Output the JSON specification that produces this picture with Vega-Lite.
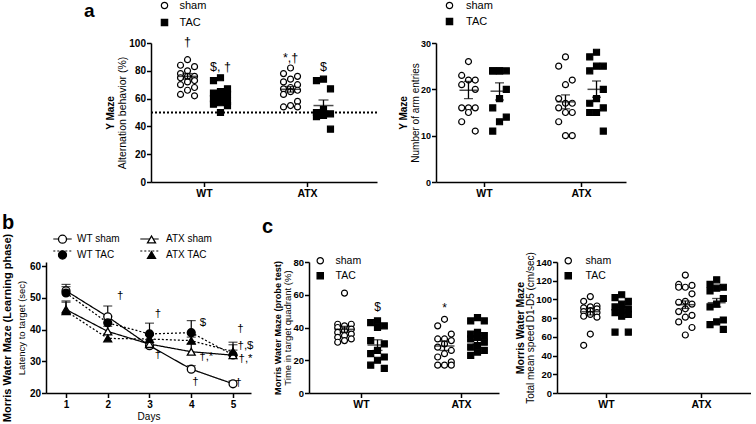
{
"$schema": "https://vega.github.io/schema/vega-lite/v6.json",
"background": "white",
"padding": {"left": 0, "top": 0, "right": 0, "bottom": 0},
"spacing": 14,
"resolve": {"scale": {"shape": "independent", "fill": "independent", "stroke": "independent", "size": "independent", "strokeDash": "independent"}},
"datasets": {
"altPts": [
{"g":"WT","t":"sham","v":88},{"g":"WT","t":"sham","v":84},{"g":"WT","t":"sham","v":83},{"g":"WT","t":"sham","v":80},{"g":"WT","t":"sham","v":78},{"g":"WT","t":"sham","v":76},{"g":"WT","t":"sham","v":76},{"g":"WT","t":"sham","v":75},{"g":"WT","t":"sham","v":73},{"g":"WT","t":"sham","v":72},{"g":"WT","t":"sham","v":70},{"g":"WT","t":"sham","v":68},{"g":"WT","t":"sham","v":66},{"g":"WT","t":"sham","v":63},{"g":"WT","t":"sham","v":62},
{"g":"WT","t":"TAC","v":75},{"g":"WT","t":"TAC","v":73},{"g":"WT","t":"TAC","v":67},{"g":"WT","t":"TAC","v":65},{"g":"WT","t":"TAC","v":64},{"g":"WT","t":"TAC","v":63},{"g":"WT","t":"TAC","v":61},{"g":"WT","t":"TAC","v":60},{"g":"WT","t":"TAC","v":58},{"g":"WT","t":"TAC","v":57},{"g":"WT","t":"TAC","v":56},{"g":"WT","t":"TAC","v":55},{"g":"WT","t":"TAC","v":50},
{"g":"ATX","t":"sham","v":82},{"g":"ATX","t":"sham","v":78},{"g":"ATX","t":"sham","v":76},{"g":"ATX","t":"sham","v":74},{"g":"ATX","t":"sham","v":72},{"g":"ATX","t":"sham","v":70},{"g":"ATX","t":"sham","v":68},{"g":"ATX","t":"sham","v":67},{"g":"ATX","t":"sham","v":66},{"g":"ATX","t":"sham","v":65},{"g":"ATX","t":"sham","v":63},{"g":"ATX","t":"sham","v":58},{"g":"ATX","t":"sham","v":55},{"g":"ATX","t":"sham","v":54},{"g":"ATX","t":"sham","v":54},
{"g":"ATX","t":"TAC","v":74},{"g":"ATX","t":"TAC","v":73},{"g":"ATX","t":"TAC","v":67},{"g":"ATX","t":"TAC","v":52},{"g":"ATX","t":"TAC","v":50},{"g":"ATX","t":"TAC","v":49},{"g":"ATX","t":"TAC","v":48},{"g":"ATX","t":"TAC","v":47},{"g":"ATX","t":"TAC","v":38}
],
"altStats": [{"g":"WT","t":"sham","m":76,"lo":74,"hi":78},{"g":"WT","t":"TAC","m":61.5,"lo":59.5,"hi":63.5},{"g":"ATX","t":"sham","m":66.7,"lo":64.7,"hi":68.7},{"g":"ATX","t":"TAC","m":55,"lo":51,"hi":59}],
"altAnn": [{"g":"WT","t":"sham","y":101,"s":"†"},{"g":"WT","t":"TAC","y":83,"s":"$, †"},{"g":"ATX","t":"sham","y":89,"s":"*,†"},{"g":"ATX","t":"TAC","y":83,"s":"$"}],
"armPts": [
{"g":"WT","t":"sham","v":26},{"g":"WT","t":"sham","v":23},{"g":"WT","t":"sham","v":22},{"g":"WT","t":"sham","v":22},{"g":"WT","t":"sham","v":21},{"g":"WT","t":"sham","v":20},{"g":"WT","t":"sham","v":16},{"g":"WT","t":"sham","v":16},{"g":"WT","t":"sham","v":16},{"g":"WT","t":"sham","v":15},{"g":"WT","t":"sham","v":13},{"g":"WT","t":"sham","v":11},
{"g":"WT","t":"TAC","v":24},{"g":"WT","t":"TAC","v":24},{"g":"WT","t":"TAC","v":24},{"g":"WT","t":"TAC","v":24},{"g":"WT","t":"TAC","v":24},{"g":"WT","t":"TAC","v":20},{"g":"WT","t":"TAC","v":18},{"g":"WT","t":"TAC","v":16},{"g":"WT","t":"TAC","v":14},{"g":"WT","t":"TAC","v":13},{"g":"WT","t":"TAC","v":11},
{"g":"ATX","t":"sham","v":27},{"g":"ATX","t":"sham","v":25},{"g":"ATX","t":"sham","v":22},{"g":"ATX","t":"sham","v":21},{"g":"ATX","t":"sham","v":18},{"g":"ATX","t":"sham","v":17},{"g":"ATX","t":"sham","v":17},{"g":"ATX","t":"sham","v":16},{"g":"ATX","t":"sham","v":15},{"g":"ATX","t":"sham","v":15},{"g":"ATX","t":"sham","v":13},{"g":"ATX","t":"sham","v":10},{"g":"ATX","t":"sham","v":10},
{"g":"ATX","t":"TAC","v":28},{"g":"ATX","t":"TAC","v":27},{"g":"ATX","t":"TAC","v":25},{"g":"ATX","t":"TAC","v":25},{"g":"ATX","t":"TAC","v":24},{"g":"ATX","t":"TAC","v":20},{"g":"ATX","t":"TAC","v":18},{"g":"ATX","t":"TAC","v":17},{"g":"ATX","t":"TAC","v":16},{"g":"ATX","t":"TAC","v":15},{"g":"ATX","t":"TAC","v":15},{"g":"ATX","t":"TAC","v":11}
],
"armStats": [{"g":"WT","t":"sham","m":19.8,"lo":18,"hi":21.7},{"g":"WT","t":"TAC","m":19.6,"lo":17.7,"hi":21.4},{"g":"ATX","t":"sham","m":17.3,"lo":15.8,"hi":18.8},{"g":"ATX","t":"TAC","m":20,"lo":18.3,"hi":21.8}],
"timePts": [
{"g":"WT","t":"sham","v":61},{"g":"WT","t":"sham","v":42},{"g":"WT","t":"sham","v":42},{"g":"WT","t":"sham","v":41},{"g":"WT","t":"sham","v":40},{"g":"WT","t":"sham","v":39},{"g":"WT","t":"sham","v":38},{"g":"WT","t":"sham","v":37},{"g":"WT","t":"sham","v":36},{"g":"WT","t":"sham","v":35},{"g":"WT","t":"sham","v":34},{"g":"WT","t":"sham","v":33},{"g":"WT","t":"sham","v":32},{"g":"WT","t":"sham","v":31},
{"g":"WT","t":"TAC","v":44},{"g":"WT","t":"TAC","v":43},{"g":"WT","t":"TAC","v":41},{"g":"WT","t":"TAC","v":40},{"g":"WT","t":"TAC","v":32},{"g":"WT","t":"TAC","v":30},{"g":"WT","t":"TAC","v":26},{"g":"WT","t":"TAC","v":24},{"g":"WT","t":"TAC","v":22},{"g":"WT","t":"TAC","v":20},{"g":"WT","t":"TAC","v":17},{"g":"WT","t":"TAC","v":15},
{"g":"ATX","t":"sham","v":45},{"g":"ATX","t":"sham","v":41},{"g":"ATX","t":"sham","v":36},{"g":"ATX","t":"sham","v":33},{"g":"ATX","t":"sham","v":33},{"g":"ATX","t":"sham","v":32},{"g":"ATX","t":"sham","v":30},{"g":"ATX","t":"sham","v":28},{"g":"ATX","t":"sham","v":26},{"g":"ATX","t":"sham","v":24},{"g":"ATX","t":"sham","v":22},{"g":"ATX","t":"sham","v":19},{"g":"ATX","t":"sham","v":17},{"g":"ATX","t":"sham","v":17},{"g":"ATX","t":"sham","v":17},
{"g":"ATX","t":"TAC","v":46},{"g":"ATX","t":"TAC","v":44},{"g":"ATX","t":"TAC","v":44},{"g":"ATX","t":"TAC","v":37},{"g":"ATX","t":"TAC","v":36},{"g":"ATX","t":"TAC","v":35},{"g":"ATX","t":"TAC","v":34},{"g":"ATX","t":"TAC","v":33},{"g":"ATX","t":"TAC","v":31},{"g":"ATX","t":"TAC","v":29},{"g":"ATX","t":"TAC","v":28},{"g":"ATX","t":"TAC","v":26},{"g":"ATX","t":"TAC","v":25},{"g":"ATX","t":"TAC","v":23}
],
"timeStats": [{"g":"WT","t":"sham","m":38.9,"lo":37.1,"hi":40.7},{"g":"WT","t":"TAC","m":29.3,"lo":26,"hi":32.5},{"g":"ATX","t":"sham","m":28.7,"lo":26,"hi":31.5},{"g":"ATX","t":"TAC","m":32.4,"lo":30,"hi":35}],
"timeAnn": [{"g":"WT","t":"TAC","y":52.7,"s":"$"},{"g":"ATX","t":"sham","y":52,"s":"*"}],
"spdPts": [
{"g":"WT","t":"sham","v":103},{"g":"WT","t":"sham","v":98},{"g":"WT","t":"sham","v":93},{"g":"WT","t":"sham","v":92},{"g":"WT","t":"sham","v":91},{"g":"WT","t":"sham","v":90},{"g":"WT","t":"sham","v":88},{"g":"WT","t":"sham","v":87},{"g":"WT","t":"sham","v":86},{"g":"WT","t":"sham","v":84},{"g":"WT","t":"sham","v":82},{"g":"WT","t":"sham","v":81},{"g":"WT","t":"sham","v":63},{"g":"WT","t":"sham","v":51},
{"g":"WT","t":"TAC","v":105},{"g":"WT","t":"TAC","v":102},{"g":"WT","t":"TAC","v":98},{"g":"WT","t":"TAC","v":95},{"g":"WT","t":"TAC","v":92},{"g":"WT","t":"TAC","v":90},{"g":"WT","t":"TAC","v":88},{"g":"WT","t":"TAC","v":86},{"g":"WT","t":"TAC","v":84},{"g":"WT","t":"TAC","v":82},{"g":"WT","t":"TAC","v":65},{"g":"WT","t":"TAC","v":65},
{"g":"ATX","t":"sham","v":126},{"g":"ATX","t":"sham","v":116},{"g":"ATX","t":"sham","v":115},{"g":"ATX","t":"sham","v":113},{"g":"ATX","t":"sham","v":113},{"g":"ATX","t":"sham","v":106},{"g":"ATX","t":"sham","v":98},{"g":"ATX","t":"sham","v":97},{"g":"ATX","t":"sham","v":95},{"g":"ATX","t":"sham","v":90},{"g":"ATX","t":"sham","v":87},{"g":"ATX","t":"sham","v":83},{"g":"ATX","t":"sham","v":81},{"g":"ATX","t":"sham","v":76},{"g":"ATX","t":"sham","v":70},{"g":"ATX","t":"sham","v":62},
{"g":"ATX","t":"TAC","v":121},{"g":"ATX","t":"TAC","v":116},{"g":"ATX","t":"TAC","v":113},{"g":"ATX","t":"TAC","v":112},{"g":"ATX","t":"TAC","v":109},{"g":"ATX","t":"TAC","v":101},{"g":"ATX","t":"TAC","v":95},{"g":"ATX","t":"TAC","v":92},{"g":"ATX","t":"TAC","v":78},{"g":"ATX","t":"TAC","v":76},{"g":"ATX","t":"TAC","v":73},{"g":"ATX","t":"TAC","v":68}
],
"spdStats": [{"g":"WT","t":"sham","m":86.9,"lo":83.4,"hi":90.4},{"g":"WT","t":"TAC","m":89,"lo":85.5,"hi":92.5},{"g":"ATX","t":"sham","m":94.4,"lo":90.4,"hi":98.4},{"g":"ATX","t":"TAC","m":96.5,"lo":92,"hi":101}],
"mwm": [
{"grp":"WT sham","d":1,"m":52.2,"hi":54.2},{"grp":"WT sham","d":2,"m":44.0,"hi":47.4},{"grp":"WT sham","d":3,"m":34.9,"hi":35.8},{"grp":"WT sham","d":4,"m":27.5,"hi":28.6},{"grp":"WT sham","d":5,"m":22.9,"hi":23.8},
{"grp":"WT TAC","d":1,"m":51.5,"hi":53.5},{"grp":"WT TAC","d":2,"m":42.1,"hi":44.2},{"grp":"WT TAC","d":3,"m":38.6,"hi":42.0},{"grp":"WT TAC","d":4,"m":39.0,"hi":42.8},{"grp":"WT TAC","d":5,"m":32.0,"hi":36.0},
{"grp":"ATX sham","d":1,"m":46.3,"hi":48.6},{"grp":"ATX sham","d":2,"m":39.4,"hi":41.0},{"grp":"ATX sham","d":3,"m":35.4,"hi":36.8},{"grp":"ATX sham","d":4,"m":33.0,"hi":35.5},{"grp":"ATX sham","d":5,"m":31.9,"hi":33.5},
{"grp":"ATX TAC","d":1,"m":45.8,"hi":49.0},{"grp":"ATX TAC","d":2,"m":37.2,"hi":38.6},{"grp":"ATX TAC","d":3,"m":37.0,"hi":38.2},{"grp":"ATX TAC","d":4,"m":36.5,"hi":37.6},{"grp":"ATX TAC","d":5,"m":33.0,"hi":35.2}
],
"mwmAnn": [
{"d":2.3,"y":50.4,"s":"†"},{"d":3.2,"y":45.0,"s":"†"},{"d":3.2,"y":32.0,"s":"†"},{"d":4.28,"y":42.2,"s":"$"},{"d":4.36,"y":31.2,"s":"†,*"},{"d":4.1,"y":23.4,"s":"†"},{"d":5.18,"y":40.2,"s":"†"},{"d":5.3,"y":34.9,"s":"†,$"},{"d":5.3,"y":30.8,"s":"†,*"},{"d":5.13,"y":23.1,"s":"†"}
]
},
"vconcat": [
{
"hconcat": [
{"width": 46, "height": 139, "data": {"values": [{}]}, "mark": {"type": "point", "opacity": 0}, "encoding": {}},
{
 "width": 226, "height": 139,
 "title": {"text": "a", "dx": -67, "dy": 25, "fontSize": 19},
 "resolve": {"axis": {"y": "independent"}},
 "layer": [
  {"data": {"values": [{"ref": 50}]},
   "mark": {"type": "rule", "strokeDash": [2, 2], "strokeWidth": 1.8, "color": "black"},
   "encoding": {"y": {"field": "ref", "type": "quantitative", "scale": {"domain": [0, 100], "nice": false}, "axis": null}}},
  {"data": {"name": "altPts"},
   "transform": [
    {"window": [{"op": "row_number", "as": "i"}], "groupby": ["g", "t"], "sort": [{"field": "v", "order": "descending"}]},
    {"calculate": "(datum.g == 'WT' ? 1 : 2) + (datum.t == 'sham' ? -0.16 : 0.16) + ((datum.i - 1) % 3 == 0 ? 0 : ((datum.i - 1) % 3 == 1 ? -1 : 1)) * 0.068", "as": "px"}],
   "mark": {"type": "point", "strokeWidth": 1.2, "opacity": 1, "fillOpacity": 1, "size": 36},
   "encoding": {
    "x": {"field": "px", "type": "quantitative", "scale": {"domain": [0.4854, 2.6796], "nice": false, "zero": false}, "axis": {"values": [1, 2], "labelExpr": "datum.value == 1 ? 'WT' : 'ATX'", "title": null}},
    "y": {"field": "v", "type": "quantitative", "scale": {"domain": [0, 100], "nice": false}, "axis": {"values": [0, 20, 40, 60, 80, 100], "title": "Alternation behavior (%)", "titlePadding": 1, "titleFontSize": 10.5}},
    "shape": {"field": "t", "type": "nominal", "scale": {"domain": ["sham", "TAC"], "range": ["circle", "square"]}, "legend": {"orient": "none", "legendX": 8, "legendY": -43, "title": null, "symbolSize": 40, "symbolStrokeWidth": 1.2, "labelFontSize": 11, "labelOffset": 9.5, "rowPadding": 4}},
    "fill": {"field": "t", "type": "nominal", "scale": {"domain": ["sham", "TAC"], "range": ["white", "black"]}, "legend": {"orient": "none", "legendX": 8, "legendY": -43, "title": null, "symbolSize": 40, "symbolStrokeWidth": 1.2, "labelFontSize": 11, "labelOffset": 9.5, "rowPadding": 4}},
    "stroke": {"field": "t", "type": "nominal", "scale": {"domain": ["sham", "TAC"], "range": ["black", "black"]}, "legend": {"orient": "none", "legendX": 8, "legendY": -43, "title": null, "symbolSize": 40, "symbolStrokeWidth": 1.2, "labelFontSize": 11, "labelOffset": 9.5, "rowPadding": 4}}
   }},
  {"data": {"name": "altStats"},
   "transform": [{"calculate": "(datum.g == 'WT' ? 1 : 2) + (datum.t == 'sham' ? -0.16 : 0.16)", "as": "px"}],
   "encoding": {"x": {"field": "px", "type": "quantitative", "scale": {"domain": [0.4854, 2.6796], "nice": false, "zero": false}, "axis": {"values": [1, 2], "labelExpr": "datum.value == 1 ? 'WT' : 'ATX'", "title": null}}},
   "layer": [
    {"mark": {"type": "tick", "orient": "horizontal", "size": 20, "thickness": 1.5, "color": "black"}, "encoding": {"y": {"field": "m", "type": "quantitative", "scale": {"domain": [0, 100], "nice": false}, "axis": null}}},
    {"mark": {"type": "rule", "color": "black", "strokeWidth": 1.3}, "encoding": {"y": {"field": "lo", "type": "quantitative", "scale": {"domain": [0, 100], "nice": false}, "axis": null}, "y2": {"field": "hi"}}},
    {"mark": {"type": "tick", "orient": "horizontal", "size": 10, "thickness": 1.3, "color": "black"}, "encoding": {"y": {"field": "lo", "type": "quantitative", "scale": {"domain": [0, 100], "nice": false}, "axis": null}}},
    {"mark": {"type": "tick", "orient": "horizontal", "size": 10, "thickness": 1.3, "color": "black"}, "encoding": {"y": {"field": "hi", "type": "quantitative", "scale": {"domain": [0, 100], "nice": false}, "axis": null}}}
   ]},
  {"data": {"name": "altAnn"},
   "transform": [{"calculate": "(datum.g == 'WT' ? 1 : 2) + (datum.t == 'sham' ? -0.16 : 0.16)", "as": "px"}],
   "mark": {"type": "text", "fontSize": 12.5, "color": "black", "baseline": "middle"},
   "encoding": {
    "x": {"field": "px", "type": "quantitative", "scale": {"domain": [0.4854, 2.6796], "nice": false, "zero": false}, "axis": {"values": [1, 2], "labelExpr": "datum.value == 1 ? 'WT' : 'ATX'", "title": null}},
    "y": {"field": "y", "type": "quantitative", "scale": {"domain": [0, 100], "nice": false}, "axis": null},
    "text": {"field": "s"}}},
  {"data": {"name": "altStats"},
   "mark": {"type": "point", "opacity": 0},
   "encoding": {"y": {"field": "m", "type": "quantitative", "scale": {"domain": [0, 100], "nice": false}, "axis": {"orient": "left", "title": "Y Maze", "titleFontWeight": "bold", "titleFontSize": 10, "domain": false, "ticks": false, "labels": false, "offset": 34, "titlePadding": 2}}}}
 ]
},
{
 "width": 190, "height": 139,
 "resolve": {"axis": {"y": "independent"}},
 "layer": [
  {"data": {"name": "armPts"},
   "transform": [
    {"window": [{"op": "row_number", "as": "i"}], "groupby": ["g", "t"], "sort": [{"field": "v", "order": "descending"}]},
    {"calculate": "(datum.g == 'WT' ? 1 : 2) + (datum.t == 'sham' ? -0.16 : 0.16) + ((datum.i - 1) % 3 == 0 ? 0 : ((datum.i - 1) % 3 == 1 ? -1 : 1)) * 0.07", "as": "px"}],
   "mark": {"type": "point", "strokeWidth": 1.2, "opacity": 1, "fillOpacity": 1, "size": 36},
   "encoding": {
    "x": {"field": "px", "type": "quantitative", "scale": {"domain": [0.5052, 2.464], "nice": false, "zero": false}, "axis": {"values": [1, 2], "labelExpr": "datum.value == 1 ? 'WT' : 'ATX'", "title": null}},
    "y": {"field": "v", "type": "quantitative", "scale": {"domain": [0, 30], "nice": false}, "axis": {"values": [0, 10, 20, 30], "title": "Number of arm entries", "titlePadding": 0, "titleFontSize": 10, "labelFontSize": 9}},
    "shape": {"field": "t", "type": "nominal", "scale": {"domain": ["sham", "TAC"], "range": ["circle", "square"]}, "legend": {"orient": "none", "legendX": 8, "legendY": -43, "title": null, "symbolSize": 40, "symbolStrokeWidth": 1.2, "labelFontSize": 11, "labelOffset": 11, "rowPadding": 3}},
    "fill": {"field": "t", "type": "nominal", "scale": {"domain": ["sham", "TAC"], "range": ["white", "black"]}, "legend": {"orient": "none", "legendX": 8, "legendY": -43, "title": null, "symbolSize": 40, "symbolStrokeWidth": 1.2, "labelFontSize": 11, "labelOffset": 11, "rowPadding": 3}},
    "stroke": {"field": "t", "type": "nominal", "scale": {"domain": ["sham", "TAC"], "range": ["black", "black"]}, "legend": {"orient": "none", "legendX": 8, "legendY": -43, "title": null, "symbolSize": 40, "symbolStrokeWidth": 1.2, "labelFontSize": 11, "labelOffset": 11, "rowPadding": 3}}
   }},
  {"data": {"name": "armStats"},
   "transform": [{"calculate": "(datum.g == 'WT' ? 1 : 2) + (datum.t == 'sham' ? -0.16 : 0.16)", "as": "px"}],
   "encoding": {"x": {"field": "px", "type": "quantitative", "scale": {"domain": [0.5052, 2.464], "nice": false, "zero": false}, "axis": {"values": [1, 2], "labelExpr": "datum.value == 1 ? 'WT' : 'ATX'", "title": null}}},
   "layer": [
    {"mark": {"type": "tick", "orient": "horizontal", "size": 18, "thickness": 1.5, "color": "black"}, "encoding": {"y": {"field": "m", "type": "quantitative", "scale": {"domain": [0, 30], "nice": false}, "axis": null}}},
    {"mark": {"type": "rule", "color": "black", "strokeWidth": 1.3}, "encoding": {"y": {"field": "lo", "type": "quantitative", "scale": {"domain": [0, 30], "nice": false}, "axis": null}, "y2": {"field": "hi"}}},
    {"mark": {"type": "tick", "orient": "horizontal", "size": 9, "thickness": 1.3, "color": "black"}, "encoding": {"y": {"field": "lo", "type": "quantitative", "scale": {"domain": [0, 30], "nice": false}, "axis": null}}},
    {"mark": {"type": "tick", "orient": "horizontal", "size": 9, "thickness": 1.3, "color": "black"}, "encoding": {"y": {"field": "hi", "type": "quantitative", "scale": {"domain": [0, 30], "nice": false}, "axis": null}}}
   ]},
  {"data": {"name": "armStats"},
   "mark": {"type": "point", "opacity": 0},
   "encoding": {"y": {"field": "m", "type": "quantitative", "scale": {"domain": [0, 30], "nice": false}, "axis": {"orient": "left", "title": "Y Maze", "titleFontWeight": "bold", "titleFontSize": 10, "domain": false, "ticks": false, "labels": false, "offset": 26, "titlePadding": 2}}}}
 ]
}
],
"spacing": 59,
"bounds": "flush",
"resolve": {"scale": {"shape": "independent", "fill": "independent", "stroke": "independent", "size": "independent", "strokeDash": "independent"}}
},
{
"hconcat": [
{
 "width": 205, "height": 131,
 "title": {"text": "b", "dx": -44, "dy": 4},
 "resolve": {"axis": {"y": "independent"}},
 "encoding": {"x": {"field": "d", "type": "quantitative", "scale": {"domain": [0.521, 5.4311], "nice": false, "zero": false}, "axis": {"values": [1, 2, 3, 4, 5], "format": "d", "title": "Days", "titleFontWeight": "normal", "titleFontSize": 10, "titlePadding": 2, "labelFontSize": 10}}},
 "layer": [
  {"data": {"name": "mwm"}, "mark": {"type": "rule", "color": "black", "strokeWidth": 1.2},
   "encoding": {"y": {"field": "m", "type": "quantitative", "scale": {"domain": [20, 61.26], "nice": false, "zero": false}, "axis": null}, "y2": {"field": "hi"}}},
  {"data": {"name": "mwm"}, "mark": {"type": "tick", "orient": "horizontal", "size": 9, "thickness": 1.2, "color": "black"},
   "encoding": {"y": {"field": "hi", "type": "quantitative", "scale": {"domain": [20, 61.26], "nice": false, "zero": false}, "axis": null}}},
  {"data": {"name": "mwm"},
   "mark": {"type": "line", "color": "black", "strokeWidth": 1.25},
   "encoding": {
    "y": {"field": "m", "type": "quantitative", "scale": {"domain": [20, 61.26], "nice": false, "zero": false}, "axis": null},
    "strokeDash": {"field": "grp", "type": "nominal", "sort": null, "scale": {"range": [[1, 0], [2, 2], [1, 0], [2, 2]]},
      "legend": {"orient": "none", "legendX": 11.5, "legendY": -28, "title": null, "columns": 2, "symbolType": "M-2.3,0H2.3", "symbolSize": 64, "symbolStrokeWidth": 1.2, "symbolStrokeColor": "black", "labelFontSize": 10, "labelOffset": 9.5, "labelExpr": "' '", "columnPadding": 60, "rowPadding": 2}}
   }},
  {"data": {"name": "mwm"},
   "mark": {"type": "point", "strokeWidth": 1.3, "opacity": 1, "fillOpacity": 1, "size": 62},
   "encoding": {
    "y": {"field": "m", "type": "quantitative", "scale": {"domain": [20, 61.26], "nice": false, "zero": false}, "axis": {"values": [20, 30, 40, 50, 60], "title": "Latency to target (sec)", "titlePadding": 3, "titleFontSize": 9.5}},
    "shape": {"field": "grp", "type": "nominal", "scale": {"domain": ["WT sham", "WT TAC", "ATX sham", "ATX TAC"], "range": ["circle", "circle", "triangle-up", "triangle-up"]},
      "legend": {"orient": "none", "legendX": 11.5, "legendY": -28, "title": null, "columns": 2, "symbolSize": 64, "symbolStrokeWidth": 1.3, "labelFontSize": 10, "labelOffset": 9.5, "columnPadding": 24, "rowPadding": 2}},
    "fill": {"field": "grp", "type": "nominal", "scale": {"domain": ["WT sham", "WT TAC", "ATX sham", "ATX TAC"], "range": ["white", "black", "white", "black"]},
      "legend": {"orient": "none", "legendX": 11.5, "legendY": -28, "title": null, "columns": 2, "symbolSize": 64, "symbolStrokeWidth": 1.3, "labelFontSize": 10, "labelOffset": 9.5, "columnPadding": 24, "rowPadding": 2}},
    "stroke": {"field": "grp", "type": "nominal", "scale": {"domain": ["WT sham", "WT TAC", "ATX sham", "ATX TAC"], "range": ["black", "black", "black", "black"]},
      "legend": {"orient": "none", "legendX": 11.5, "legendY": -28, "title": null, "columns": 2, "symbolSize": 64, "symbolStrokeWidth": 1.3, "labelFontSize": 10, "labelOffset": 9.5, "columnPadding": 24, "rowPadding": 2}}
   }},
  {"data": {"name": "mwmAnn"},
   "mark": {"type": "text", "fontSize": 11.5, "color": "black", "baseline": "middle"},
   "encoding": {"y": {"field": "y", "type": "quantitative", "scale": {"domain": [20, 61.26], "nice": false, "zero": false}, "axis": null}, "text": {"field": "s"}}},
  {"data": {"name": "mwm"},
   "mark": {"type": "point", "opacity": 0},
   "encoding": {"y": {"field": "m", "type": "quantitative", "scale": {"domain": [20, 61.26], "nice": false, "zero": false}, "axis": {"orient": "left", "title": "Morris Water Maze (Learning phase)", "titleFontWeight": "bold", "titleFontSize": 11, "domain": false, "ticks": false, "labels": false, "offset": 32, "titlePadding": 2}}}}
 ]
},
{
 "width": 190, "height": 131,
 "title": {"text": "c", "dx": -47, "dy": -15},
 "resolve": {"axis": {"y": "independent"}},
 "layer": [
  {"data": {"name": "timePts"},
   "transform": [
    {"window": [{"op": "row_number", "as": "i"}], "groupby": ["g", "t"], "sort": [{"field": "v", "order": "descending"}]},
    {"calculate": "(datum.g == 'WT' ? 1 : 2) + (datum.t == 'sham' ? -0.165 : 0.165) + ((datum.i - 1) % 3 == 0 ? 0 : ((datum.i - 1) % 3 == 1 ? -1 : 1)) * 0.068", "as": "px"}],
   "mark": {"type": "point", "strokeWidth": 1.2, "opacity": 1, "fillOpacity": 1, "size": 36},
   "encoding": {
    "x": {"field": "px", "type": "quantitative", "scale": {"domain": [0.48, 2.38], "nice": false, "zero": false}, "axis": {"values": [1, 2], "labelExpr": "datum.value == 1 ? 'WT' : 'ATX'", "title": null}},
    "y": {"field": "v", "type": "quantitative", "scale": {"domain": [0, 80], "nice": false}, "axis": {"values": [0, 20, 40, 60, 80], "title": "Time in target quadrant (%)", "titlePadding": 0, "titleFontSize": 9.5, "labelFontSize": 9.5}},
    "shape": {"field": "t", "type": "nominal", "scale": {"domain": ["sham", "TAC"], "range": ["circle", "square"]}, "legend": {"orient": "none", "legendX": 6, "legendY": -6.5, "title": null, "symbolSize": 40, "symbolStrokeWidth": 1.2, "labelFontSize": 10.5, "labelOffset": 10, "rowPadding": 3}},
    "fill": {"field": "t", "type": "nominal", "scale": {"domain": ["sham", "TAC"], "range": ["white", "black"]}, "legend": {"orient": "none", "legendX": 6, "legendY": -6.5, "title": null, "symbolSize": 40, "symbolStrokeWidth": 1.2, "labelFontSize": 10.5, "labelOffset": 10, "rowPadding": 3}},
    "stroke": {"field": "t", "type": "nominal", "scale": {"domain": ["sham", "TAC"], "range": ["black", "black"]}, "legend": {"orient": "none", "legendX": 6, "legendY": -6.5, "title": null, "symbolSize": 40, "symbolStrokeWidth": 1.2, "labelFontSize": 10.5, "labelOffset": 10, "rowPadding": 3}}
   }},
  {"data": {"name": "timeStats"},
   "transform": [{"calculate": "(datum.g == 'WT' ? 1 : 2) + (datum.t == 'sham' ? -0.165 : 0.165)", "as": "px"}],
   "encoding": {"x": {"field": "px", "type": "quantitative", "scale": {"domain": [0.48, 2.38], "nice": false, "zero": false}, "axis": {"values": [1, 2], "labelExpr": "datum.value == 1 ? 'WT' : 'ATX'", "title": null}}},
   "layer": [
    {"mark": {"type": "tick", "orient": "horizontal", "size": 20, "thickness": 1.5, "color": "black"}, "encoding": {"y": {"field": "m", "type": "quantitative", "scale": {"domain": [0, 80], "nice": false}, "axis": null}}},
    {"mark": {"type": "rule", "color": "black", "strokeWidth": 1.3}, "encoding": {"y": {"field": "lo", "type": "quantitative", "scale": {"domain": [0, 80], "nice": false}, "axis": null}, "y2": {"field": "hi"}}},
    {"mark": {"type": "tick", "orient": "horizontal", "size": 10, "thickness": 1.3, "color": "black"}, "encoding": {"y": {"field": "lo", "type": "quantitative", "scale": {"domain": [0, 80], "nice": false}, "axis": null}}},
    {"mark": {"type": "tick", "orient": "horizontal", "size": 10, "thickness": 1.3, "color": "black"}, "encoding": {"y": {"field": "hi", "type": "quantitative", "scale": {"domain": [0, 80], "nice": false}, "axis": null}}}
   ]},
  {"data": {"name": "timeAnn"},
   "transform": [{"calculate": "(datum.g == 'WT' ? 1 : 2) + (datum.t == 'sham' ? -0.165 : 0.165)", "as": "px"}],
   "mark": {"type": "text", "fontSize": 12, "color": "black", "baseline": "middle"},
   "encoding": {
    "x": {"field": "px", "type": "quantitative", "scale": {"domain": [0.48, 2.38], "nice": false, "zero": false}, "axis": {"values": [1, 2], "labelExpr": "datum.value == 1 ? 'WT' : 'ATX'", "title": null}},
    "y": {"field": "y", "type": "quantitative", "scale": {"domain": [0, 80], "nice": false}, "axis": null},
    "text": {"field": "s"}}},
  {"data": {"name": "timeStats"},
   "mark": {"type": "point", "opacity": 0},
   "encoding": {"y": {"field": "m", "type": "quantitative", "scale": {"domain": [0, 80], "nice": false}, "axis": {"orient": "left", "title": "Morris Water Maze (probe test)", "titleFontWeight": "bold", "titleFontSize": 9.2, "domain": false, "ticks": false, "labels": false, "offset": 25, "titlePadding": 2}}}}
 ]
},
{
 "width": 194, "height": 131,
 "resolve": {"axis": {"y": "independent"}},
 "layer": [
  {"data": {"name": "spdPts"},
   "transform": [
    {"window": [{"op": "row_number", "as": "i"}], "groupby": ["g", "t"], "sort": [{"field": "v", "order": "descending"}]},
    {"calculate": "(datum.g == 'WT' ? 1 : 2) + (datum.t == 'sham' ? -0.165 : 0.165) + ((datum.i - 1) % 3 == 0 ? 0 : ((datum.i - 1) % 3 == 1 ? -1 : 1)) * 0.07", "as": "px"}],
   "mark": {"type": "point", "strokeWidth": 1.2, "opacity": 1, "fillOpacity": 1, "size": 36},
   "encoding": {
    "x": {"field": "px", "type": "quantitative", "scale": {"domain": [0.4842, 2.5263], "nice": false, "zero": false}, "axis": {"values": [1, 2], "labelExpr": "datum.value == 1 ? 'WT' : 'ATX'", "title": null}},
    "y": {"field": "v", "type": "quantitative", "scale": {"domain": [0, 140], "nice": false}, "axis": {"values": [0, 20, 40, 60, 80, 100, 120, 140], "title": "Total mean speed D1-D5 (cm/sec)", "titlePadding": 0, "titleFontSize": 10, "labelFontSize": 9.5}},
    "shape": {"field": "t", "type": "nominal", "scale": {"domain": ["sham", "TAC"], "range": ["circle", "square"]}, "legend": {"orient": "none", "legendX": 6, "legendY": -6.5, "title": null, "symbolSize": 40, "symbolStrokeWidth": 1.2, "labelFontSize": 10.5, "labelOffset": 12, "rowPadding": 3}},
    "fill": {"field": "t", "type": "nominal", "scale": {"domain": ["sham", "TAC"], "range": ["white", "black"]}, "legend": {"orient": "none", "legendX": 6, "legendY": -6.5, "title": null, "symbolSize": 40, "symbolStrokeWidth": 1.2, "labelFontSize": 10.5, "labelOffset": 12, "rowPadding": 3}},
    "stroke": {"field": "t", "type": "nominal", "scale": {"domain": ["sham", "TAC"], "range": ["black", "black"]}, "legend": {"orient": "none", "legendX": 6, "legendY": -6.5, "title": null, "symbolSize": 40, "symbolStrokeWidth": 1.2, "labelFontSize": 10.5, "labelOffset": 12, "rowPadding": 3}}
   }},
  {"data": {"name": "spdStats"},
   "transform": [{"calculate": "(datum.g == 'WT' ? 1 : 2) + (datum.t == 'sham' ? -0.165 : 0.165)", "as": "px"}],
   "encoding": {"x": {"field": "px", "type": "quantitative", "scale": {"domain": [0.4842, 2.5263], "nice": false, "zero": false}, "axis": {"values": [1, 2], "labelExpr": "datum.value == 1 ? 'WT' : 'ATX'", "title": null}}},
   "layer": [
    {"mark": {"type": "tick", "orient": "horizontal", "size": 18, "thickness": 1.5, "color": "black"}, "encoding": {"y": {"field": "m", "type": "quantitative", "scale": {"domain": [0, 140], "nice": false}, "axis": null}}},
    {"mark": {"type": "rule", "color": "black", "strokeWidth": 1.3}, "encoding": {"y": {"field": "lo", "type": "quantitative", "scale": {"domain": [0, 140], "nice": false}, "axis": null}, "y2": {"field": "hi"}}},
    {"mark": {"type": "tick", "orient": "horizontal", "size": 9, "thickness": 1.3, "color": "black"}, "encoding": {"y": {"field": "lo", "type": "quantitative", "scale": {"domain": [0, 140], "nice": false}, "axis": null}}},
    {"mark": {"type": "tick", "orient": "horizontal", "size": 9, "thickness": 1.3, "color": "black"}, "encoding": {"y": {"field": "hi", "type": "quantitative", "scale": {"domain": [0, 140], "nice": false}, "axis": null}}}
   ]},
  {"data": {"name": "spdStats"},
   "mark": {"type": "point", "opacity": 0},
   "encoding": {"y": {"field": "m", "type": "quantitative", "scale": {"domain": [0, 140], "nice": false}, "axis": {"orient": "left", "title": "Morris Water Maze", "titleFontWeight": "bold", "titleFontSize": 10.5, "domain": false, "ticks": false, "labels": false, "offset": 30, "titlePadding": 2}}}}
 ]
}
],
"spacing": 58,
"bounds": "flush",
"resolve": {"scale": {"shape": "independent", "fill": "independent", "stroke": "independent", "size": "independent", "strokeDash": "independent"}}
}
],
"config": {
 "view": {"stroke": null},
 "font": "Liberation Sans",
 "axis": {"domainColor": "black", "domainWidth": 1.5, "tickColor": "black", "tickWidth": 1.5, "tickSize": 4.5, "labelColor": "black", "labelFont": "Liberation Sans", "labelFontWeight": "bold", "labelFontSize": 10, "labelPadding": 1, "labelFlush": false, "titleColor": "black", "titleFont": "Liberation Sans", "titleFontWeight": "normal", "grid": false},
 "axisX": {"labelFontSize": 10.5, "labelPadding": 2},
 "legend": {"labelFont": "Liberation Sans", "labelColor": "black", "padding": 0},
 "title": {"font": "Liberation Sans", "fontSize": 20, "fontWeight": "bold", "color": "black", "anchor": "start", "frame": "group"},
 "text": {"font": "Liberation Sans"}
}
}
